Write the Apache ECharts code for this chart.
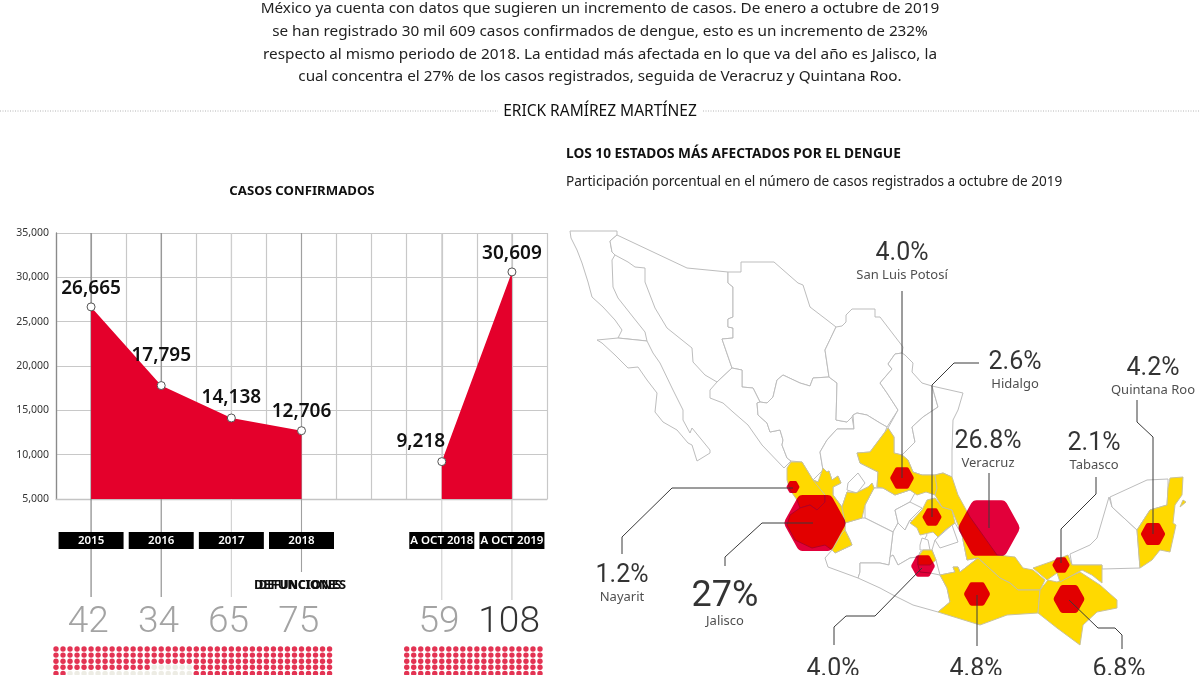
<!DOCTYPE html>
<html>
<head>
<meta charset="utf-8">
<title>Dengue en México</title>
<script src="https://cdn.jsdelivr.net/npm/echarts@6/dist/echarts.min.js"></script>
<style>
  html, body { margin: 0; padding: 0; background: #fff; }
  #chart { width: 1200px; height: 675px; }
</style>
</head>
<body>
<div id="chart"></div>
<script>
// casos confirmados y defunciones
const categories = ['2015', '2016', '2017', '2018', 'A OCT 2018', 'A OCT 2019'];
const casos = [26665, 17795, 14138, 12706, 9218, 30609];
const defunciones = [42, 34, 65, 75, 59, 108];
// lugar de cada periodo sobre la reticula (14 columnas)
const posiciones = [1, 3, 5, 7, 11, 13];

// estados
const estados = ['San Luis Potosí', 'Hidalgo', 'Quintana Roo', 'Veracruz', 'Tabasco', 'Nayarit', 'Jalisco', 'Morelos', 'Oaxaca', 'Chiapas'];
const participacion = [4.0, 2.6, 4.2, 26.8, 2.1, 1.2, 27, 4.0, 4.8, 6.8];
const rotulos = ['4.0%', '2.6%', '4.2%', '26.8%', '2.1%', '1.2%', '27%', '4.0%', '4.8%', '6.8%'];
const nombres = ['San Luis Potosí', 'Hidalgo', 'Quintana Roo', 'Veracruz', 'Tabasco', 'Nayarit', 'Jalisco', '', '', ''];
const centros = [[902, 478], [932, 517], [1153, 534], [989, 528], [1061, 565], [793, 487], [815, 523], [923, 566], [977, 594], [1069, 599]];

/* mapa: contornos trazados sobre la imagen */
const blancos = {
  'Baja California': [[570,231],[617,231],[617,235],[610,241],[612,252],[615,255],[612,260],[613,287],[618,298],[633,317],[645,332],[647,341],[618,338],[622,330],[615,320],[603,307],[592,297],[588,282],[582,263],[577,250],[571,238]],
  'Baja California Sur': [[597,340],[618,338],[647,341],[653,353],[660,363],[673,390],[683,410],[683,420],[690,433],[692,428],[710,450],[710,453],[697,461],[692,445],[688,443],[677,430],[663,422],[655,412],[657,393],[647,380],[638,367],[628,368],[615,355],[602,343]],
  'Sonora': [[617,235],[687,268],[728,272],[728,283],[733,287],[733,317],[728,319],[728,327],[733,328],[733,338],[722,339],[732,368],[717,382],[705,375],[693,362],[692,348],[667,328],[655,308],[645,282],[645,268],[635,267],[628,262],[615,255],[612,252],[610,241]],
  'Chihuahua': [[728,272],[741,272],[741,262],[774,262],[798,283],[803,285],[810,307],[827,320],[836,327],[825,350],[829,377],[813,378],[810,386],[800,383],[783,375],[777,380],[773,397],[767,403],[760,402],[753,388],[742,387],[742,370],[732,368],[722,339],[733,338],[733,328],[728,327],[728,319],[733,317],[733,287],[728,283]],
  'Sinaloa': [[717,382],[732,368],[742,370],[742,387],[753,388],[760,402],[757,403],[758,415],[767,423],[770,432],[780,430],[783,440],[782,445],[787,458],[791,461],[784,468],[762,445],[748,425],[733,412],[723,403],[710,398],[710,390]],
  'Durango': [[760,402],[767,403],[773,397],[777,380],[783,375],[800,383],[810,386],[813,378],[829,377],[837,383],[836,420],[847,422],[852,417],[854,429],[837,429],[827,440],[820,452],[823,470],[813,480],[802,462],[791,461],[787,458],[782,445],[783,440],[780,430],[770,432],[767,423],[758,415],[757,403]],
  'Coahuila': [[836,327],[842,326],[846,322],[846,315],[852,309],[875,309],[875,317],[880,317],[903,347],[902,353],[895,354],[888,364],[892,369],[880,383],[887,393],[898,410],[887,427],[880,423],[867,415],[857,413],[853,415],[852,417],[847,422],[836,420],[837,383],[829,377],[825,350]],
  'Nuevo León': [[902,353],[905,355],[913,363],[912,372],[922,383],[932,386],[938,407],[923,417],[912,427],[915,442],[907,450],[902,455],[894,453],[894,437],[888,428],[887,427],[898,410],[887,393],[880,383],[892,369],[888,364],[895,354]],
  'Tamaulipas': [[932,386],[963,393],[958,410],[953,420],[952,450],[952,477],[943,473],[935,475],[922,475],[913,472],[908,460],[902,455],[907,450],[915,442],[912,427],[923,417],[938,407]],
  'Zacatecas': [[820,452],[827,440],[837,429],[854,429],[853,415],[857,413],[867,415],[880,423],[887,427],[885,432],[870,452],[857,453],[860,463],[878,472],[877,487],[883,488],[874,488],[872,483],[868,487],[856,493],[847,492],[842,507],[833,495],[833,487],[841,483],[838,476],[832,480],[829,471],[827,472],[823,468],[823,470]],
  'Aguascalientes': [[848,483],[858,473],[865,483],[857,493],[847,490]],
  'Guanajuato': [[874,488],[883,488],[895,495],[910,490],[915,493],[910,502],[895,510],[898,523],[893,532],[865,518],[865,505]],
  'Querétaro': [[910,502],[922,508],[910,520],[905,530],[898,523],[895,510]],
  'México': [[905,530],[910,520],[923,526],[927,535],[923,542],[927,548],[920,552],[918,557],[910,558],[898,565],[893,555],[890,557],[893,532],[898,523]],
  'Michoacán': [[832,550],[835,553],[852,545],[850,540],[845,530],[845,523],[862,518],[865,518],[893,532],[890,557],[889,565],[880,563],[860,563],[860,572],[858,578],[828,567],[825,558]],
  'Guerrero': [[858,578],[860,572],[860,563],[880,563],[889,565],[890,557],[893,555],[898,565],[910,558],[918,557],[918,565],[920,572],[930,573],[940,575],[947,588],[950,602],[938,612],[913,605],[893,595],[880,588]],
  'Puebla': [[938,537],[945,530],[955,523],[962,535],[966,555],[967,560],[978,558],[960,572],[958,567],[953,567],[955,572],[940,575],[936,560],[932,550],[935,540]],
  'Tlaxcala': [[935,540],[952,525],[958,542],[940,548]],
  'Ciudad de México': [[920,545],[922,538],[928,540],[930,550],[920,550]],
  'Campeche': [[1102,569],[1140,568],[1137,530],[1112,507],[1109,497],[1097,538],[1090,545],[1070,554],[1072,565],[1088,565],[1102,565]],
  'Yucatán': [[1110,497],[1147,480],[1168,479],[1168,488],[1167,505],[1150,510],[1137,530],[1112,507]]
};
const amarillos = {
  'Nayarit': [[791,462],[802,462],[813,480],[818,482],[825,495],[825,502],[817,510],[810,505],[800,508],[797,500],[790,490],[787,480],[787,468]],
  'Jalisco': [[813,480],[818,482],[823,468],[827,472],[829,471],[832,480],[838,476],[841,483],[833,487],[833,495],[842,507],[845,523],[845,530],[842,533],[832,550],[825,545],[812,548],[795,540],[787,525],[790,515],[800,508],[810,505],[817,510],[825,502],[825,495]],
  'Centro': [[847,492],[856,493],[868,487],[872,483],[874,488],[865,505],[862,518],[845,523],[842,507]],
  'Colima': [[845,530],[850,540],[852,545],[835,553],[832,550],[842,533]],
  'San Luis Potosí': [[888,428],[894,437],[894,453],[902,455],[908,460],[913,472],[922,475],[935,475],[937,488],[935,495],[926,492],[917,495],[910,490],[895,495],[883,488],[877,487],[878,472],[860,463],[857,453],[870,452],[885,432]],
  'Hidalgo': [[910,523],[922,510],[927,500],[935,498],[942,507],[952,510],[955,523],[945,530],[938,537],[933,532],[920,535],[917,528]],
  'Veracruz': [[935,475],[943,473],[952,477],[958,495],[970,517],[997,555],[1015,557],[1023,568],[1033,570],[1045,580],[1040,590],[1018,590],[1010,583],[1000,578],[978,558],[967,560],[966,555],[962,535],[952,510],[942,507],[935,495],[937,488]],
  'Morelos': [[918,557],[923,550],[932,550],[936,560],[930,565],[918,565]],
  'Oaxaca': [[978,558],[1000,578],[1010,583],[1018,590],[1040,590],[1038,613],[1007,615],[980,625],[938,612],[950,602],[947,588],[940,575],[955,572],[953,567],[958,567],[960,572]],
  'Chiapas': [[1040,590],[1048,580],[1057,582],[1080,572],[1100,585],[1117,600],[1117,608],[1097,612],[1083,625],[1080,645],[1057,628],[1038,613]],
  'Tabasco': [[1033,568],[1050,562],[1068,555],[1072,565],[1088,565],[1102,565],[1102,583],[1092,575],[1082,570],[1060,582],[1057,573],[1047,580]],
  'Quintana Roo': [[1170,478],[1183,477],[1182,495],[1175,505],[1173,523],[1176,525],[1170,552],[1160,550],[1152,560],[1140,568],[1137,530],[1150,510],[1167,505],[1168,488]],
  'Cozumel': [[1180,507],[1183,500],[1186,502]]
};

const poligono = function (name, ring) {
  return { type: 'Feature', properties: { name: name }, geometry: { type: 'Polygon', coordinates: [ring.concat([ring[0]])] } };
};
const features = [];
Object.keys(blancos).forEach(function (k) { features.push(poligono(k, blancos[k])); });
Object.keys(amarillos).forEach(function (k) { features.push(poligono(k, amarillos[k])); });
echarts.registerMap('mexico', { type: 'FeatureCollection', features: features });

const FONT = '"Noto Sans"';
const ROJO = '#e4002b';
const HEX = 'path://M30 0L70 0Q76 0 79 6L98 44Q101 50 98 56L79 94Q76 100 70 100L30 100Q24 100 21 94L2 56Q-1 50 2 44L21 6Q24 0 30 0Z';

const miles = function (v) { return v.toLocaleString('en-US'); };

// etiquetas de casos (desplazamiento respecto al punto)
const desplazamiento = [[0, 1], [0, -11], [0, -1], [0, 0], [-21, -1], [0, 1]];
const casosData = [];
casos.forEach(function (v, i) {
  // hueco entre 2018 y 2018 a octubre
  if (i === 4) casosData.push([9, null]);
  casosData.push({ value: [posiciones[i], v], label: { show: true, offset: desplazamiento[i], formatter: miles(v) } });
});

// patas debajo del grid
const largoPata = [98, 98, 98, 73, 101, 101];
const colorPata = ['#7d7d7d', '#8a8a8a', '#cfcfcf', '#a0a0a0', '#cfcfcf', '#c4c4c4'];

// puntos: un punto por defuncion, 10 por fila
const puntos = [];
const numeros = [];
defunciones.forEach(function (v, i) {
  for (let n = 0; n < Math.max(100, v); n++) {
    puntos.push({
      value: [posiciones[i] - 1 + (n % 10) * 0.2, Math.floor(n / 10)],
      itemStyle: { color: n < v ? '#dc0028' : '#e9e7dd' }
    });
  }
  numeros.push({
    value: [posiciones[i] - 0.08, -4.3],
    label: { formatter: String(v), color: v === 108 ? '#000' : '#8c8c8c' }
  });
});

const lineas = [
  [[902,291],[902,478]],
  [[979,363],[954,363],[932,385],[932,517]],
  [[1137,400],[1137,422],[1153,437],[1153,534]],
  [[989,473],[989,528]],
  [[1096,477],[1096,494],[1061,529],[1061,563]],
  [[622,554],[622,537],[672,488],[793,488]],
  [[725,566],[725,557],[762,523],[813,523]],
  [[834,645],[834,627],[846,616],[875,616],[922,568]],
  [[977,646],[977,595]],
  [[1122,649],[1122,635],[1115,628],[1098,628],[1069,600]]
];
const posRotulo = [[902,261],[1015,370],[1153,376],[988,449],[1094,451],[622,583],[725,604],[833,670],[976,670],[1119,670]];

const parrafo = [
  'México ya cuenta con datos que sugieren un incremento de casos. De enero a octubre de 2019',
  'se han registrado 30 mil 609 casos confirmados de dengue, esto es un incremento de 232%',
  'respecto al mismo periodo de 2018. La entidad más afectada en lo que va del año es Jalisco, la',
  'cual concentra el 27% de los casos registrados, seguida de Veracruz y Quintana Roo.'
];
const graphics = [];
parrafo.forEach(function (t, i) {
  graphics.push({ type: 'text', x: 600, y: [9, 32, 55, 77][i], style: { text: t, font: '15.3px ' + FONT, fill: '#222', align: 'center', verticalAlign: 'middle' } });
});
[[0, 498], [703, 1200]].forEach(function (p) {
  graphics.push({ type: 'line', shape: { x1: p[0], y1: 111, x2: p[1], y2: 111 }, style: { stroke: '#b5b5b5', lineWidth: 1, lineDash: [1, 1.5] } });
});
graphics.push({ type: 'text', x: 600, y: 112, style: { text: 'ERICK RAMÍREZ MARTÍNEZ', font: '15.5px ' + FONT, fill: '#111', align: 'center', verticalAlign: 'middle' } });
graphics.push({ type: 'text', x: 302, y: 191, style: { text: 'CASOS CONFIRMADOS', font: 'bold 13.2px ' + FONT, fill: '#111', align: 'center', verticalAlign: 'middle' } });
graphics.push({ type: 'text', x: 566, y: 154, style: { text: 'LOS 10 ESTADOS MÁS AFECTADOS POR EL DENGUE', font: 'bold 13.7px ' + FONT, fill: '#111', align: 'left', verticalAlign: 'middle' } });
graphics.push({ type: 'text', x: 566, y: 182, style: { text: 'Participación porcentual en el número de casos registrados a octubre de 2019', font: '13.6px ' + FONT, fill: '#222', align: 'left', verticalAlign: 'middle' } });
// el original trae el texto encimado
graphics.push({ type: 'text', x: 300, y: 586, style: { text: 'DEFUNCIONES', font: 'bold 11.5px ' + FONT, fill: '#111', align: 'center', verticalAlign: 'middle' } });
graphics.push({ type: 'text', x: 300, y: 586, scaleX: 1.12, style: { text: 'DEFUNCIONES', font: 'bold 11.5px ' + FONT, fill: '#111', align: 'center', verticalAlign: 'middle' } });

const chart = echarts.init(document.getElementById('chart'));
chart.setOption({
  animation: false,
  backgroundColor: '#fff',
  textStyle: { fontFamily: FONT },
  graphic: graphics,
  grid: [
    { left: 56, top: 233, width: 491, height: 266 },
    { left: 56, top: 649, width: 491, height: 25 }
  ],
  xAxis: [
    {
      type: 'value', gridIndex: 0, min: 0, max: 14, interval: 1,
      axisLine: { lineStyle: { color: '#c4c4c4', width: 1.3 } },
      axisTick: { show: false }, axisLabel: { show: false },
      splitLine: { show: true, lineStyle: { color: '#c8c8c8', width: 1.2 } }
    },
    {
      // barra negra de cada periodo, encima de las patas
      type: 'value', gridIndex: 0, min: 0, max: 14, interval: 1, position: 'bottom', z: 5,
      axisLine: { show: false }, axisTick: { show: false }, splitLine: { show: false },
      axisLabel: {
        margin: 33, hideOverlap: false,
        formatter: function (v) {
          const i = posiciones.indexOf(v);
          return i >= 0 ? '{caja|' + categories[i] + '}' : '';
        },
        rich: {
          caja: { backgroundColor: '#000', color: '#fff', width: 65, height: 17, lineHeight: 17, align: 'center', fontSize: 11.5, fontWeight: 600, fontFamily: FONT }
        }
      }
    },
    { type: 'value', gridIndex: 1, min: 0, max: 14, show: false }
  ],
  yAxis: [
    {
      type: 'value', gridIndex: 0, min: 5000, max: 35000, interval: 5000,
      axisLine: { show: true, lineStyle: { color: '#8a8a8a', width: 1.3 } },
      axisTick: { show: false },
      axisLabel: { color: '#333', fontSize: 10.5, margin: 7, formatter: miles },
      splitLine: { show: true, lineStyle: { color: '#c8c8c8', width: 1.2 } }
    },
    { type: 'value', gridIndex: 1, min: 0, max: 4.1, inverse: true, show: false }
  ],
  geo: {
    map: 'mexico', silent: true, roam: false,
    projection: { project: function (p) { return p; }, unproject: function (p) { return p; } },
    boundingCoords: [[560, 220], [1200, 675]],
    left: 560, top: 220, width: 640, height: 455,
    itemStyle: { areaColor: '#fff', borderColor: '#bdbdbd', borderWidth: 1 },
    regions: Object.keys(amarillos).map(function (k) {
      return { name: k, itemStyle: { areaColor: '#ffd900', borderColor: '#c9c29a' } };
    })
  },
  series: [
    {
      type: 'custom', name: 'patas', xAxisIndex: 0, yAxisIndex: 0, z: 1, clip: false, silent: true,
      data: posiciones.map(function (p, i) { return [p, 35000, i]; }),
      renderItem: function (params, api) {
        const i = api.value(2);
        const top = api.coord([api.value(0), 35000]);
        const base = api.coord([api.value(0), 5000]);
        return {
          type: 'line',
          shape: { x1: top[0], y1: top[1], x2: top[0], y2: base[1] + largoPata[i] },
          style: { stroke: colorPata[i], lineWidth: 1.1 }
        };
      }
    },
    {
      type: 'line', name: 'Casos confirmados', xAxisIndex: 0, yAxisIndex: 0, z: 3,
      data: casosData, connectNulls: false, smooth: false,
      symbol: 'circle', symbolSize: 8, showSymbol: true,
      itemStyle: { color: '#fff', borderColor: '#555', borderWidth: 1 },
      lineStyle: { color: ROJO, width: 0 },
      areaStyle: { color: ROJO, opacity: 1, origin: 'start' },
      label: { show: true, position: 'top', color: '#111', fontSize: 19, fontWeight: 600, fontFamily: FONT }
    },
    {
      type: 'scatter', name: 'Defunciones', xAxisIndex: 2, yAxisIndex: 1, clip: false, silent: true,
      symbolSize: 5.4, data: puntos
    },
    {
      type: 'scatter', name: 'Numeros', xAxisIndex: 2, yAxisIndex: 1, clip: false, silent: true,
      symbolSize: 0, data: numeros,
      label: { show: true, position: 'inside', fontSize: 37, fontWeight: 300, fontFamily: 'Roboto' }
    },
    {
      type: 'scatter', name: 'Participación', coordinateSystem: 'geo', geoIndex: 0, silent: true, z: 3,
      symbol: HEX,
      blendMode: 'multiply',
      symbolSize: function (v) { const w = 11.8 * Math.sqrt(v[2]); return [w, w * 0.91]; },
      itemStyle: { color: '#e2003a', opacity: 1 },
      data: estados.map(function (n, i) {
        return { name: n, value: [centros[i][0], centros[i][1], participacion[i]] };
      })
    },
    {
      type: 'lines', coordinateSystem: 'geo', geoIndex: 0, polyline: true, silent: true, z: 4,
      lineStyle: { color: '#3a3a3a', width: 1, opacity: 1, curveness: 0 },
      data: lineas.map(function (c) { return { coords: c }; })
    },
    {
      type: 'scatter', name: 'Rótulos', coordinateSystem: 'geo', geoIndex: 0, silent: true, z: 5,
      symbolSize: 0,
      data: posRotulo.map(function (p, i) {
        return { value: p, label: { formatter: '{' + (i === 6 ? 'g' : 'p') + '|' + rotulos[i] + '}' + (nombres[i] ? '\n{n|' + nombres[i] + '}' : '') } };
      }),
      label: {
        show: true, position: 'inside', align: 'center', color: '#000',
        rich: {
          p: { fontSize: 25, fontWeight: 400, fontFamily: 'Roboto', color: '#000', lineHeight: 28, align: 'center' },
          g: { fontSize: 36, fontWeight: 400, fontFamily: 'Roboto', color: '#000', lineHeight: 34, align: 'center' },
          n: { fontSize: 13, fontFamily: FONT, color: '#222', lineHeight: 14, align: 'center' }
        }
      }
    }
  ]
});
</script>
</body>
</html>
